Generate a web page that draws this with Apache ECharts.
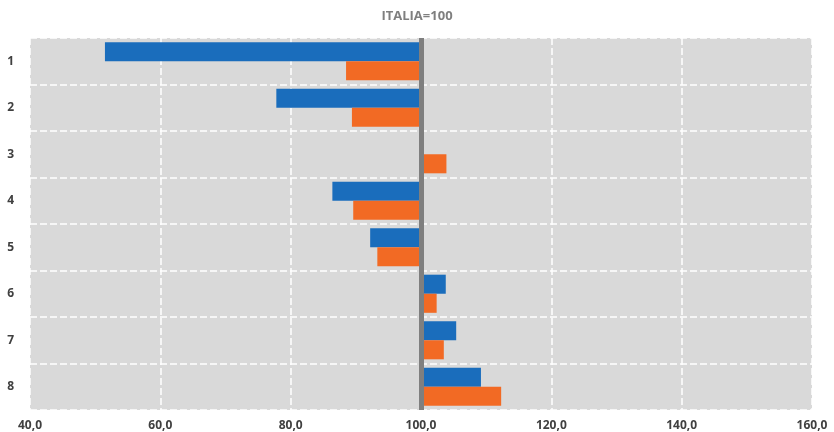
<!DOCTYPE html>
<html>
<head>
<meta charset="utf-8">
<script src="https://cdn.jsdelivr.net/npm/echarts@6/dist/echarts.min.js"></script>
<style>
  html, body { margin: 0; padding: 0; background: #fff; }
  #chart { width: 834px; height: 432px; }
</style>
</head>
<body>
<div id="chart"></div>
<script>
var categories = ['1', '2', '3', '4', '5', '6', '7', '8'];
var blueValues = [51.5, 77.8, null, 86.4, 92.2, 103.8, 105.4, 109.2];
var orangeValues = [88.5, 89.4, 103.9, 89.6, 93.3, 102.4, 103.5, 112.3];
var baseLine = 100;
var xMin = 40, xMax = 160, xStep = 20;

// bars start from 100: transparent base + visible part in one stack
function baseOf(arr) {
    return arr.map(function (v) { return v == null ? null : Math.min(v, baseLine); });
}
function partOf(arr) {
    return arr.map(function (v) { return v == null ? null : Math.abs(v - baseLine); });
}

var myChart = echarts.init(document.getElementById('chart'));
var option = {
    animation: false,
    title: {
        text: 'ITALIA=100',
        left: 'center',
        top: 5,
        textStyle: { color: '#7f7f7f', fontSize: 13, fontWeight: 'bold', fontFamily: 'Open Sans' }
    },
    grid: {
        left: 30, right: 22, top: 38, bottom: 22,
        show: true,
        backgroundColor: '#d9d9d9',
        borderWidth: 0
    },
    xAxis: {
        type: 'value',
        min: xMin, max: xMax, interval: xStep,
        axisLine: { show: false },
        axisTick: { show: false },
        axisLabel: {
            color: '#404040', fontSize: 12, fontFamily: 'Open Sans', fontWeight: 'bold', margin: 10,
            formatter: function (v) { return v.toFixed(1).replace('.', ','); }
        },
        splitLine: { show: true, lineStyle: { color: '#ffffff', type: [7, 3], width: 1.5 } }
    },
    yAxis: {
        type: 'category',
        data: categories,
        inverse: true,
        axisLine: { show: false },
        axisTick: { show: false },
        axisLabel: { color: '#404040', fontSize: 12, fontFamily: 'Open Sans', fontWeight: 'bold', margin: 16 },
        splitLine: { show: true, lineStyle: { color: '#ffffff', type: [7, 3], width: 1.5 } }
    },
    series: [
        {
            type: 'bar', stack: 'b', data: baseOf(blueValues), silent: true,
            itemStyle: { color: 'transparent' }, barGap: '0%', barCategoryGap: '18%'
        },
        {
            type: 'bar', stack: 'b', data: partOf(blueValues),
            itemStyle: { color: '#1a6dbc' }, barGap: '0%', barCategoryGap: '18%'
        },
        {
            type: 'bar', stack: 'o', data: baseOf(orangeValues), silent: true,
            itemStyle: { color: 'transparent' }, barGap: '0%', barCategoryGap: '18%'
        },
        {
            type: 'bar', stack: 'o', data: partOf(orangeValues),
            itemStyle: { color: '#f26a24' }, barGap: '0%', barCategoryGap: '18%',
            markLine: {
                silent: true,
                symbol: 'none',
                label: { show: false },
                lineStyle: { color: '#7f7f7f', width: 5, type: 'solid' },
                data: [{ xAxis: baseLine }]
            }
        }
    ]
};
myChart.setOption(option);
</script>
</body>
</html>
